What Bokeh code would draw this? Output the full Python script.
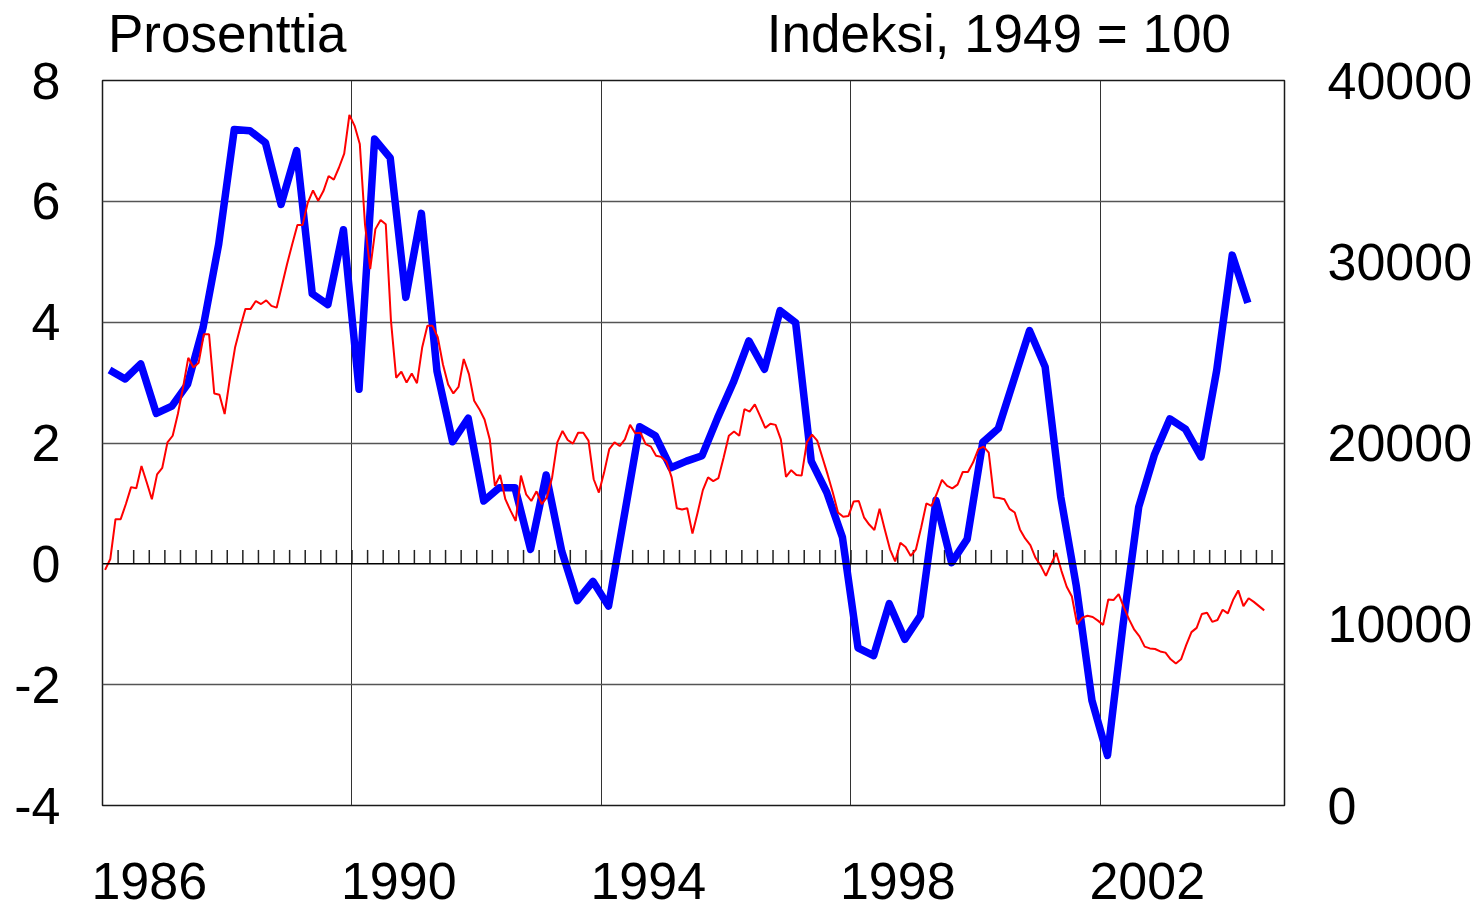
import json
import numpy as np
from bokeh.plotting import figure
from bokeh.models import (Range1d, LinearAxis, FixedTicker, Span,
                          CustomJSTickFormatter)
from bokeh.embed import file_html
from bokeh.resources import INLINE

# ---------------- data ----------------
start_year = 1986
# quarterly series (thick blue), per cent, 1986Q1 .. 2004Q2
blue_q = [3.21, 3.06, 3.31, 2.49, 2.61, 2.97, 3.91, 5.29, 7.19, 7.17,
          6.97, 5.95, 6.84, 4.47, 4.29, 5.53, 2.89, 7.03, 6.72, 4.41,
          5.80, 3.19, 2.02, 2.41, 1.04, 1.26, 1.26, 0.24, 1.47, 0.21,
          -0.61, -0.29, -0.70, 0.78, 2.27, 2.12, 1.59, 1.70, 1.79, 2.42,
          3.00, 3.69, 3.22, 4.19, 3.99, 1.70, 1.18, 0.44, -1.39, -1.52,
          -0.66, -1.25, -0.86, 1.05, 0.02, 0.41, 2.01, 2.24, 3.05, 3.86,
          3.26, 1.11, -0.37, -2.26, -3.17, -1.00, 0.94, 1.80, 2.40, 2.23,
          1.77, 3.20, 5.11, 4.32]
# monthly series (thin red), per cent, 1986M01 .. 2004M08
red_m = [-0.10, 0.08, 0.74, 0.74, 0.99, 1.27, 1.25, 1.62, 1.35, 1.07,
         1.48, 1.59, 2.01, 2.12, 2.48, 2.92, 3.41, 3.25, 3.33, 3.80,
         3.80, 2.82, 2.80, 2.48, 3.06, 3.58, 3.91, 4.22, 4.22, 4.35,
         4.30, 4.36, 4.27, 4.24, 4.60, 4.96, 5.29, 5.61, 5.61, 5.98,
         6.18, 6.01, 6.17, 6.42, 6.36, 6.56, 6.79, 7.43, 7.25, 6.95,
         5.62, 4.88, 5.54, 5.69, 5.62, 4.02, 3.08, 3.18, 3.00, 3.15,
         2.99, 3.58, 3.94, 3.94, 3.75, 3.30, 2.97, 2.82, 2.93, 3.39,
         3.14, 2.70, 2.56, 2.39, 2.06, 1.29, 1.47, 1.07, 0.88, 0.71,
         1.46, 1.15, 1.04, 1.20, 0.99, 1.10, 1.43, 2.01, 2.20, 2.05,
         1.99, 2.17, 2.17, 2.04, 1.40, 1.18, 1.51, 1.90, 2.01, 1.95,
         2.06, 2.30, 2.16, 2.17, 1.98, 1.94, 1.79, 1.77, 1.69, 1.43,
         0.92, 0.90, 0.92, 0.50, 0.85, 1.22, 1.43, 1.37, 1.42, 1.76,
         2.12, 2.19, 2.12, 2.56, 2.52, 2.64, 2.45, 2.25, 2.32, 2.30,
         2.06, 1.44, 1.55, 1.47, 1.46, 2.01, 2.14, 2.04, 1.76, 1.48,
         1.18, 0.85, 0.78, 0.79, 1.03, 1.04, 0.77, 0.65, 0.56, 0.91,
         0.57, 0.24, 0.04, 0.35, 0.28, 0.13, 0.24, 0.60, 1.00, 0.96,
         1.16, 1.39, 1.29, 1.25, 1.31, 1.52, 1.52, 1.68, 1.90, 1.94,
         1.84, 1.10, 1.09, 1.07, 0.91, 0.85, 0.57, 0.42, 0.31, 0.10,
         -0.03, -0.20, 0.00, 0.18, -0.12, -0.38, -0.54, -1.00, -0.89, -0.86,
         -0.88, -0.94, -1.01, -0.59, -0.60, -0.50, -0.72, -0.92, -1.09, -1.20,
         -1.37, -1.40, -1.41, -1.45, -1.47, -1.58, -1.65, -1.58, -1.34, -1.13,
         -1.06, -0.83, -0.81, -0.96, -0.93, -0.76, -0.82, -0.60, -0.44, -0.70,
         -0.57, -0.63, -0.70, -0.77]
year_labels = [1986, 1990, 1994, 1998, 2002]
grid_years = [1990, 1994, 1998, 2002]
left_ticks = [-4, -2, 0, 2, 4, 6, 8]
right_ticks = [0, 10000, 20000, 30000, 40000]
left_title = "Prosenttia"
right_title = "Indeksi, 1949 = 100"

# -------------- geometry ---------------
x_blue = start_year + (np.arange(len(blue_q)) + 0.45) / 4.0
x_red = start_year + (np.arange(len(red_m)) + 0.5) / 12.0
quarter_marks = np.arange(start_year + 0.25, 2004.76, 0.25)

FONT = "Liberation Sans"
FS = "52px"

p = figure(width=1484, height=909, output_backend="svg", toolbar_location=None,
           x_range=Range1d(1986, 2004.95), y_range=Range1d(-4, 8),
           min_border_left=102, min_border_right=200,
           min_border_top=80, min_border_bottom=104,
           background_fill_color="white", border_fill_color="white")

p.outline_line_color = "#1a1a1a"
p.outline_line_width = 1.5


def style_axis(ax, standoff, size=FS):
    ax.axis_line_color = None
    ax.major_tick_line_color = None
    ax.minor_tick_line_color = None
    ax.major_tick_out = 0
    ax.major_tick_in = 0
    ax.major_label_standoff = standoff
    ax.major_label_text_font = FONT
    ax.major_label_text_font_size = size
    ax.major_label_text_color = "black"


# bottom axis: year labels centred inside each labelled year
xax = p.xaxis[0]
xax.ticker = FixedTicker(ticks=[y + 0.75 for y in year_labels])
xax.formatter = CustomJSTickFormatter(code="return Math.floor(tick).toFixed(0);")
style_axis(xax, 57)
xax.major_label_text_line_height = 0.8

# left axis
yax = p.yaxis[0]
yax.ticker = FixedTicker(ticks=left_ticks)
yax.formatter = CustomJSTickFormatter(code="return tick.toFixed(0);")
style_axis(yax, 42)

# right axis
p.extra_y_ranges = {"idx": Range1d(0, 40000)}
rax = LinearAxis(y_range_name="idx", ticker=FixedTicker(ticks=right_ticks),
                 formatter=CustomJSTickFormatter(code="return tick.toFixed(0);"))
style_axis(rax, 43)
p.add_layout(rax, "right")

# top axis carrying the two unit titles
tax = LinearAxis(ticker=FixedTicker(ticks=[1988.0, 2000.37]),
                 formatter=CustomJSTickFormatter(
                     code="return tick < 1995 ? %s : %s;" % (json.dumps(left_title),
                                                             json.dumps(right_title))))
style_axis(tax, 18, "53px")
p.add_layout(tax, "above")

# grids
p.xgrid.ticker = FixedTicker(ticks=grid_years)
p.xgrid.grid_line_color = "#333333"
p.xgrid.grid_line_width = 1
p.ygrid.ticker = FixedTicker(ticks=[-2, 2, 4, 6])
p.ygrid.grid_line_color = "#555555"
p.ygrid.grid_line_width = 1.5

# zero line with quarter tick marks
p.add_layout(Span(location=0, dimension="width", line_color="black", line_width=1.5))
p.segment(x0=quarter_marks, y0=0, x1=quarter_marks, y1=0.23,
          line_color="#222222", line_width=1.5)

# series
p.line(x_blue, blue_q, line_color="#0000FF", line_width=7.5, line_join="round")
p.line(x_red, red_m, line_color="#FF0000", line_width=2)

open("out.html", "w").write(file_html(p, INLINE))
